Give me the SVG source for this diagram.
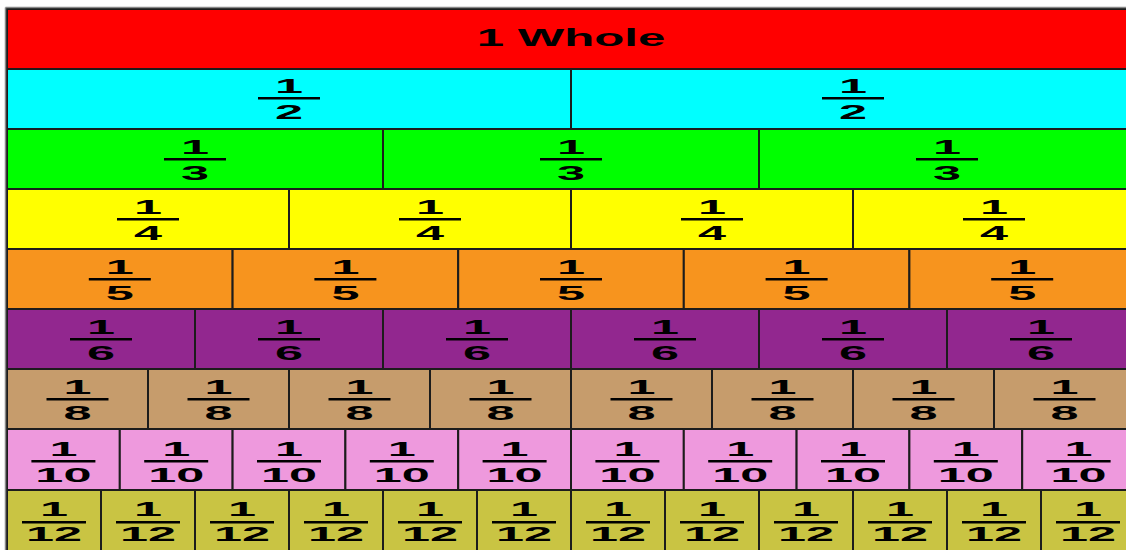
<svg xmlns="http://www.w3.org/2000/svg" width="1126" height="550" viewBox="0 0 1126 550">
<style>
.cell{stroke:#1c1c1c;stroke-width:2}
text{font-family:"Liberation Sans",Arial,sans-serif;font-weight:bold;font-size:21px;text-anchor:middle;fill:#000}
.w{font-size:24px}
.bar{fill:#000}
.c1{fill:#FF0000}.c2{fill:#00FFFF}.c3{fill:#00FF00}.c4{fill:#FFFF00}.c5{fill:#F7941E}.c6{fill:#92278F}.c8{fill:#C69C6C}.c10{fill:#EE99DD}.c12{fill:#C9C443}
</style>
<rect x="0" y="0" width="1126" height="550" fill="#fff"/>
<g id="whole"><rect class="cell c1" x="7" y="9" width="1128" height="60"/><text class="w" transform="translate(571,46) scale(2.05,1)" x="0" y="0">1 Whole</text></g>

<g id="half-1"><rect class="cell c2" x="7" y="69" width="564" height="60"/><g transform="translate(289,69)"><text transform="scale(2.4,1)" y="24">1</text><rect class="bar" x="-31" y="28" width="62" height="2.5"/><text transform="scale(2.4,1)" y="50">2</text></g></g>
<g id="half-2"><rect class="cell c2" x="571" y="69" width="564" height="60"/><g transform="translate(853,69)"><text transform="scale(2.4,1)" y="24">1</text><rect class="bar" x="-31" y="28" width="62" height="2.5"/><text transform="scale(2.4,1)" y="50">2</text></g></g>

<g id="third-1"><rect class="cell c3" x="7" y="129" width="376" height="60"/><g transform="translate(195,129)"><text transform="scale(2.4,1)" y="25">1</text><rect class="bar" x="-31" y="29" width="62" height="2.5"/><text transform="scale(2.4,1)" y="51">3</text></g></g>
<g id="third-2"><rect class="cell c3" x="383" y="129" width="376" height="60"/><g transform="translate(571,129)"><text transform="scale(2.4,1)" y="25">1</text><rect class="bar" x="-31" y="29" width="62" height="2.5"/><text transform="scale(2.4,1)" y="51">3</text></g></g>
<g id="third-3"><rect class="cell c3" x="759" y="129" width="376" height="60"/><g transform="translate(947,129)"><text transform="scale(2.4,1)" y="25">1</text><rect class="bar" x="-31" y="29" width="62" height="2.5"/><text transform="scale(2.4,1)" y="51">3</text></g></g>

<g id="quarter-1"><rect class="cell c4" x="7" y="189" width="282" height="60"/><g transform="translate(148,189)"><text transform="scale(2.4,1)" y="25">1</text><rect class="bar" x="-31" y="29" width="62" height="2.5"/><text transform="scale(2.4,1)" y="51">4</text></g></g>
<g id="quarter-2"><rect class="cell c4" x="289" y="189" width="282" height="60"/><g transform="translate(430,189)"><text transform="scale(2.4,1)" y="25">1</text><rect class="bar" x="-31" y="29" width="62" height="2.5"/><text transform="scale(2.4,1)" y="51">4</text></g></g>
<g id="quarter-3"><rect class="cell c4" x="571" y="189" width="282" height="60"/><g transform="translate(712,189)"><text transform="scale(2.4,1)" y="25">1</text><rect class="bar" x="-31" y="29" width="62" height="2.5"/><text transform="scale(2.4,1)" y="51">4</text></g></g>
<g id="quarter-4"><rect class="cell c4" x="853" y="189" width="282" height="60"/><g transform="translate(994,189)"><text transform="scale(2.4,1)" y="25">1</text><rect class="bar" x="-31" y="29" width="62" height="2.5"/><text transform="scale(2.4,1)" y="51">4</text></g></g>

<g id="fifth-1"><rect class="cell c5" x="7" y="249" width="225.6" height="60"/><g transform="translate(119.8,249)"><text transform="scale(2.4,1)" y="25">1</text><rect class="bar" x="-31" y="29" width="62" height="2.5"/><text transform="scale(2.4,1)" y="51">5</text></g></g>
<g id="fifth-2"><rect class="cell c5" x="232.6" y="249" width="225.6" height="60"/><g transform="translate(345.4,249)"><text transform="scale(2.4,1)" y="25">1</text><rect class="bar" x="-31" y="29" width="62" height="2.5"/><text transform="scale(2.4,1)" y="51">5</text></g></g>
<g id="fifth-3"><rect class="cell c5" x="458.2" y="249" width="225.6" height="60"/><g transform="translate(571,249)"><text transform="scale(2.4,1)" y="25">1</text><rect class="bar" x="-31" y="29" width="62" height="2.5"/><text transform="scale(2.4,1)" y="51">5</text></g></g>
<g id="fifth-4"><rect class="cell c5" x="683.8" y="249" width="225.6" height="60"/><g transform="translate(796.6,249)"><text transform="scale(2.4,1)" y="25">1</text><rect class="bar" x="-31" y="29" width="62" height="2.5"/><text transform="scale(2.4,1)" y="51">5</text></g></g>
<g id="fifth-5"><rect class="cell c5" x="909.4" y="249" width="225.6" height="60"/><g transform="translate(1022.2,249)"><text transform="scale(2.4,1)" y="25">1</text><rect class="bar" x="-31" y="29" width="62" height="2.5"/><text transform="scale(2.4,1)" y="51">5</text></g></g>

<g id="sixth-1"><rect class="cell c6" x="7" y="309" width="188" height="60"/><g transform="translate(101,309)"><text transform="scale(2.4,1)" y="25">1</text><rect class="bar" x="-31" y="29" width="62" height="2.5"/><text transform="scale(2.4,1)" y="51">6</text></g></g>
<g id="sixth-2"><rect class="cell c6" x="195" y="309" width="188" height="60"/><g transform="translate(289,309)"><text transform="scale(2.4,1)" y="25">1</text><rect class="bar" x="-31" y="29" width="62" height="2.5"/><text transform="scale(2.4,1)" y="51">6</text></g></g>
<g id="sixth-3"><rect class="cell c6" x="383" y="309" width="188" height="60"/><g transform="translate(477,309)"><text transform="scale(2.4,1)" y="25">1</text><rect class="bar" x="-31" y="29" width="62" height="2.5"/><text transform="scale(2.4,1)" y="51">6</text></g></g>
<g id="sixth-4"><rect class="cell c6" x="571" y="309" width="188" height="60"/><g transform="translate(665,309)"><text transform="scale(2.4,1)" y="25">1</text><rect class="bar" x="-31" y="29" width="62" height="2.5"/><text transform="scale(2.4,1)" y="51">6</text></g></g>
<g id="sixth-5"><rect class="cell c6" x="759" y="309" width="188" height="60"/><g transform="translate(853,309)"><text transform="scale(2.4,1)" y="25">1</text><rect class="bar" x="-31" y="29" width="62" height="2.5"/><text transform="scale(2.4,1)" y="51">6</text></g></g>
<g id="sixth-6"><rect class="cell c6" x="947" y="309" width="188" height="60"/><g transform="translate(1041,309)"><text transform="scale(2.4,1)" y="25">1</text><rect class="bar" x="-31" y="29" width="62" height="2.5"/><text transform="scale(2.4,1)" y="51">6</text></g></g>

<g id="eighth-1"><rect class="cell c8" x="7" y="369" width="141" height="60"/><g transform="translate(77.5,369)"><text transform="scale(2.4,1)" y="25">1</text><rect class="bar" x="-31" y="29" width="62" height="2.5"/><text transform="scale(2.4,1)" y="51">8</text></g></g>
<g id="eighth-2"><rect class="cell c8" x="148" y="369" width="141" height="60"/><g transform="translate(218.5,369)"><text transform="scale(2.4,1)" y="25">1</text><rect class="bar" x="-31" y="29" width="62" height="2.5"/><text transform="scale(2.4,1)" y="51">8</text></g></g>
<g id="eighth-3"><rect class="cell c8" x="289" y="369" width="141" height="60"/><g transform="translate(359.5,369)"><text transform="scale(2.4,1)" y="25">1</text><rect class="bar" x="-31" y="29" width="62" height="2.5"/><text transform="scale(2.4,1)" y="51">8</text></g></g>
<g id="eighth-4"><rect class="cell c8" x="430" y="369" width="141" height="60"/><g transform="translate(500.5,369)"><text transform="scale(2.4,1)" y="25">1</text><rect class="bar" x="-31" y="29" width="62" height="2.5"/><text transform="scale(2.4,1)" y="51">8</text></g></g>
<g id="eighth-5"><rect class="cell c8" x="571" y="369" width="141" height="60"/><g transform="translate(641.5,369)"><text transform="scale(2.4,1)" y="25">1</text><rect class="bar" x="-31" y="29" width="62" height="2.5"/><text transform="scale(2.4,1)" y="51">8</text></g></g>
<g id="eighth-6"><rect class="cell c8" x="712" y="369" width="141" height="60"/><g transform="translate(782.5,369)"><text transform="scale(2.4,1)" y="25">1</text><rect class="bar" x="-31" y="29" width="62" height="2.5"/><text transform="scale(2.4,1)" y="51">8</text></g></g>
<g id="eighth-7"><rect class="cell c8" x="853" y="369" width="141" height="60"/><g transform="translate(923.5,369)"><text transform="scale(2.4,1)" y="25">1</text><rect class="bar" x="-31" y="29" width="62" height="2.5"/><text transform="scale(2.4,1)" y="51">8</text></g></g>
<g id="eighth-8"><rect class="cell c8" x="994" y="369" width="141" height="60"/><g transform="translate(1064.5,369)"><text transform="scale(2.4,1)" y="25">1</text><rect class="bar" x="-31" y="29" width="62" height="2.5"/><text transform="scale(2.4,1)" y="51">8</text></g></g>

<g id="tenth-1"><rect class="cell c10" x="7" y="429" width="112.8" height="61"/><g transform="translate(63.4,429)"><text transform="scale(2.4,1)" y="27">1</text><rect class="bar" x="-32" y="31" width="64" height="2.5"/><text transform="scale(2.4,1)" y="53">10</text></g></g>
<g id="tenth-2"><rect class="cell c10" x="119.8" y="429" width="112.8" height="61"/><g transform="translate(176.2,429)"><text transform="scale(2.4,1)" y="27">1</text><rect class="bar" x="-32" y="31" width="64" height="2.5"/><text transform="scale(2.4,1)" y="53">10</text></g></g>
<g id="tenth-3"><rect class="cell c10" x="232.6" y="429" width="112.8" height="61"/><g transform="translate(289,429)"><text transform="scale(2.4,1)" y="27">1</text><rect class="bar" x="-32" y="31" width="64" height="2.5"/><text transform="scale(2.4,1)" y="53">10</text></g></g>
<g id="tenth-4"><rect class="cell c10" x="345.4" y="429" width="112.8" height="61"/><g transform="translate(401.8,429)"><text transform="scale(2.4,1)" y="27">1</text><rect class="bar" x="-32" y="31" width="64" height="2.5"/><text transform="scale(2.4,1)" y="53">10</text></g></g>
<g id="tenth-5"><rect class="cell c10" x="458.2" y="429" width="112.8" height="61"/><g transform="translate(514.6,429)"><text transform="scale(2.4,1)" y="27">1</text><rect class="bar" x="-32" y="31" width="64" height="2.5"/><text transform="scale(2.4,1)" y="53">10</text></g></g>
<g id="tenth-6"><rect class="cell c10" x="571" y="429" width="112.8" height="61"/><g transform="translate(627.4,429)"><text transform="scale(2.4,1)" y="27">1</text><rect class="bar" x="-32" y="31" width="64" height="2.5"/><text transform="scale(2.4,1)" y="53">10</text></g></g>
<g id="tenth-7"><rect class="cell c10" x="683.8" y="429" width="112.8" height="61"/><g transform="translate(740.2,429)"><text transform="scale(2.4,1)" y="27">1</text><rect class="bar" x="-32" y="31" width="64" height="2.5"/><text transform="scale(2.4,1)" y="53">10</text></g></g>
<g id="tenth-8"><rect class="cell c10" x="796.6" y="429" width="112.8" height="61"/><g transform="translate(853,429)"><text transform="scale(2.4,1)" y="27">1</text><rect class="bar" x="-32" y="31" width="64" height="2.5"/><text transform="scale(2.4,1)" y="53">10</text></g></g>
<g id="tenth-9"><rect class="cell c10" x="909.4" y="429" width="112.8" height="61"/><g transform="translate(965.8,429)"><text transform="scale(2.4,1)" y="27">1</text><rect class="bar" x="-32" y="31" width="64" height="2.5"/><text transform="scale(2.4,1)" y="53">10</text></g></g>
<g id="tenth-10"><rect class="cell c10" x="1022.2" y="429" width="112.8" height="61"/><g transform="translate(1078.6,429)"><text transform="scale(2.4,1)" y="27">1</text><rect class="bar" x="-32" y="31" width="64" height="2.5"/><text transform="scale(2.4,1)" y="53">10</text></g></g>

<g id="twelfth-1"><rect class="cell c12" x="7" y="490" width="94" height="62"/><g transform="translate(54,490)"><text transform="scale(2.4,1)" y="26">1</text><rect class="bar" x="-32" y="31" width="64" height="2.5"/><text transform="scale(2.4,1)" y="51">12</text></g></g>
<g id="twelfth-2"><rect class="cell c12" x="101" y="490" width="94" height="62"/><g transform="translate(148,490)"><text transform="scale(2.4,1)" y="26">1</text><rect class="bar" x="-32" y="31" width="64" height="2.5"/><text transform="scale(2.4,1)" y="51">12</text></g></g>
<g id="twelfth-3"><rect class="cell c12" x="195" y="490" width="94" height="62"/><g transform="translate(242,490)"><text transform="scale(2.4,1)" y="26">1</text><rect class="bar" x="-32" y="31" width="64" height="2.5"/><text transform="scale(2.4,1)" y="51">12</text></g></g>
<g id="twelfth-4"><rect class="cell c12" x="289" y="490" width="94" height="62"/><g transform="translate(336,490)"><text transform="scale(2.4,1)" y="26">1</text><rect class="bar" x="-32" y="31" width="64" height="2.5"/><text transform="scale(2.4,1)" y="51">12</text></g></g>
<g id="twelfth-5"><rect class="cell c12" x="383" y="490" width="94" height="62"/><g transform="translate(430,490)"><text transform="scale(2.4,1)" y="26">1</text><rect class="bar" x="-32" y="31" width="64" height="2.5"/><text transform="scale(2.4,1)" y="51">12</text></g></g>
<g id="twelfth-6"><rect class="cell c12" x="477" y="490" width="94" height="62"/><g transform="translate(524,490)"><text transform="scale(2.4,1)" y="26">1</text><rect class="bar" x="-32" y="31" width="64" height="2.5"/><text transform="scale(2.4,1)" y="51">12</text></g></g>
<g id="twelfth-7"><rect class="cell c12" x="571" y="490" width="94" height="62"/><g transform="translate(618,490)"><text transform="scale(2.4,1)" y="26">1</text><rect class="bar" x="-32" y="31" width="64" height="2.5"/><text transform="scale(2.4,1)" y="51">12</text></g></g>
<g id="twelfth-8"><rect class="cell c12" x="665" y="490" width="94" height="62"/><g transform="translate(712,490)"><text transform="scale(2.4,1)" y="26">1</text><rect class="bar" x="-32" y="31" width="64" height="2.5"/><text transform="scale(2.4,1)" y="51">12</text></g></g>
<g id="twelfth-9"><rect class="cell c12" x="759" y="490" width="94" height="62"/><g transform="translate(806,490)"><text transform="scale(2.4,1)" y="26">1</text><rect class="bar" x="-32" y="31" width="64" height="2.5"/><text transform="scale(2.4,1)" y="51">12</text></g></g>
<g id="twelfth-10"><rect class="cell c12" x="853" y="490" width="94" height="62"/><g transform="translate(900,490)"><text transform="scale(2.4,1)" y="26">1</text><rect class="bar" x="-32" y="31" width="64" height="2.5"/><text transform="scale(2.4,1)" y="51">12</text></g></g>
<g id="twelfth-11"><rect class="cell c12" x="947" y="490" width="94" height="62"/><g transform="translate(994,490)"><text transform="scale(2.4,1)" y="26">1</text><rect class="bar" x="-32" y="31" width="64" height="2.5"/><text transform="scale(2.4,1)" y="51">12</text></g></g>
<g id="twelfth-12"><rect class="cell c12" x="1041" y="490" width="94" height="62"/><g transform="translate(1088,490)"><text transform="scale(2.4,1)" y="26">1</text><rect class="bar" x="-32" y="31" width="64" height="2.5"/><text transform="scale(2.4,1)" y="51">12</text></g></g>

<g id="frame"><line x1="5.5" y1="7.5" x2="5.5" y2="550" stroke="#888" stroke-width="1.5"/><line x1="5.5" y1="7.5" x2="1126" y2="7.5" stroke="#888" stroke-width="1.5"/></g>
</svg>
